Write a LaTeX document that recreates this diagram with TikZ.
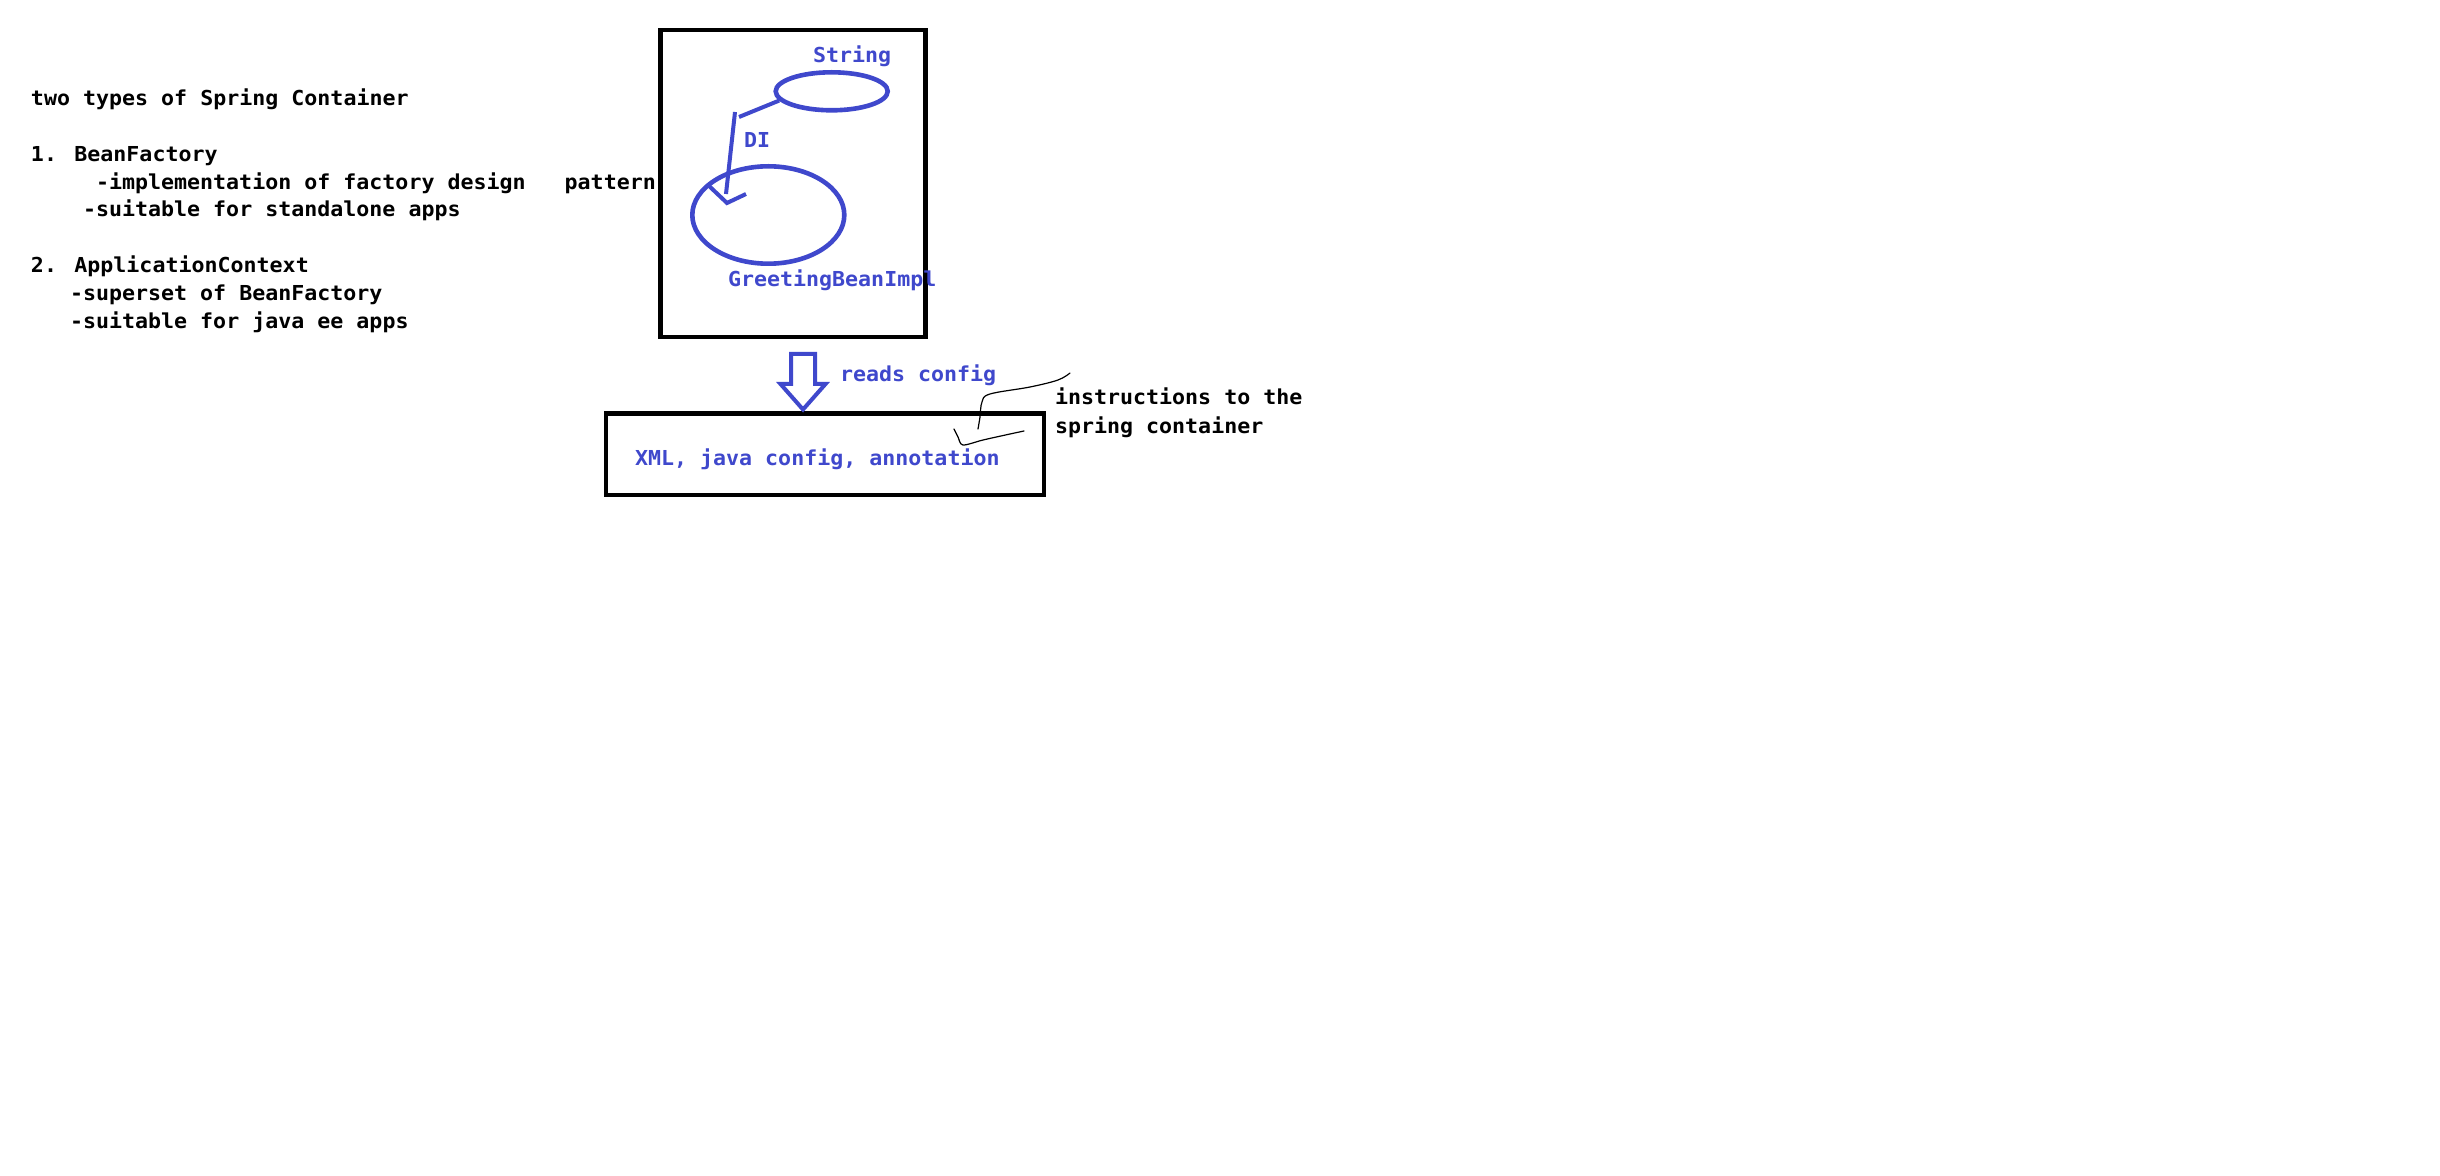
\documentclass[tikz,border=0pt]{standalone}
\usepackage{fontspec}
\usetikzlibrary{shapes.geometric}
\newfontfamily\codefont{DejaVu Sans Mono}[FakeStretch=1.05]
\definecolor{ink}{HTML}{3F48CC}
\tikzset{
  txt/.style={anchor=base west, inner sep=0pt, outer sep=0pt,
    font=\codefont\bfseries\fontsize{10.3pt}{14pt}\selectfont},
  btxt/.style={txt, text=ink},
  frame/.style={draw=black, line width=2.3pt, rectangle, inner sep=0pt},
  bean/.style={draw=ink, line width=2.3pt, ellipse, inner sep=0pt},
  diline/.style={draw=ink, line width=2pt},
  hollow/.style={draw=ink, line width=2pt, line join=miter},
  scribble/.style={draw=black, line width=0.6pt, line cap=round}
}
\begin{document}
\begin{tikzpicture}[x=0.5pt, y=-0.5pt]
  \fill[white] (0,0) rectangle (2440,1176);
  \useasboundingbox (0,0) rectangle (2440,1176);

  % notes on the two container types
  \node[txt] (title) at (31,106) {two types of Spring Container};
  \node[txt] (bf)    at (31,162) {1. BeanFactory};
  \node[txt] (bf1)   at (96,190) {-implementation of factory design\hspace{19.5pt}pattern};
  \node[txt] (bf2)   at (83,217) {-suitable for standalone apps};
  \node[txt] (ac)    at (31,273) {2. ApplicationContext};
  \node[txt] (ac1)   at (70,301) {-superset of BeanFactory};
  \node[txt] (ac2)   at (70,329) {-suitable for java ee apps};

  % the container with its beans
  \node[frame, minimum width=132.4pt, minimum height=153.5pt] (container) at (792.9,183.5) {};
  \node[bean, minimum width=56pt, minimum height=19pt] (str) at (831.7,91.3) {};
  \node[bean, minimum width=76pt, minimum height=48.7pt] (greet) at (768.3,215) {};
  \node[btxt] (strlbl)   at (813,63)  {String};
  \node[btxt] (dilbl)    at (744,148) {DI};
  \node[btxt] (greetlbl) at (728,287) {GreetingBeanImpl};

  % dependency injection arrow
  \coordinate (bend)   at (739,117);
  \coordinate (shaftA) at (735,112);
  \coordinate (shaftB) at (726,194);
  \coordinate (headL)  at (708,185);
  \coordinate (headT)  at (727,203);
  \coordinate (headR)  at (746,194);
  \draw[diline] (str.190) -- (bend);
  \draw[diline] (shaftA) -- (shaftB);
  \draw[diline, line join=miter] (headL) -- (headT) -- (headR);

  % configuration source
  \node[frame, minimum width=219pt, minimum height=40.75pt] (config) at (825,454.25) {};
  \node[btxt] (cfglbl) at (635,465) {XML, java config, annotation};

  % hollow arrow: container reads config
  \draw[hollow] (791,354) -- (791,384) -- (780.5,384) -- (803,409.5)
    -- (825.5,384) -- (815,384) -- (815,354) -- cycle;
  \node[btxt] (reads) at (840,381) {reads config};

  % side remark with its leader strokes
  \node[txt] (instr1) at (1055,405) {instructions to the};
  \node[txt] (instr2) at (1055,433) {spring container};
  \draw[scribble] plot[smooth, tension=0.6] coordinates
    {(1070,373) (1058,380) (1030,387) (990,394) (982,402) (980,417) (978,429)};
  \draw[scribble] plot[smooth, tension=0.5] coordinates
    {(954,429) (958,437) (963,445) (983,440) (1010,434) (1024,431)};
\end{tikzpicture}
\end{document}
